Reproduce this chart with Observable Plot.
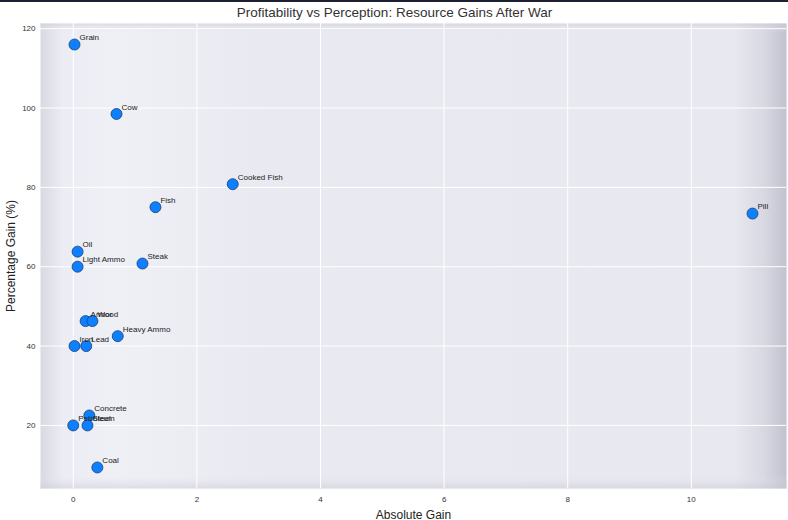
<!DOCTYPE html>
<html><head><meta charset="utf-8">
<script src="https://cdn.jsdelivr.net/npm/d3@7"></script>
<script src="https://cdn.jsdelivr.net/npm/@observablehq/plot@0.6"></script>
<style>
body{margin:0;background:#fff;font-family:"Liberation Sans",Arial,sans-serif;}
#top{height:2px;background:#1c2033;}
</style></head><body>
<div id="top"></div>
<div id="chart"></div>
<script>
const names = ["Grain","Cow","Cooked Fish","Fish","Pill","Oil","Light Ammo","Steak","Armor","Wood","Heavy Ammo","Iron","Lead","Concrete","Petroleum","Steel","Coal"];
const absGain = [0.02,0.70,2.58,1.33,10.99,0.07,0.07,1.12,0.20,0.31,0.72,0.02,0.21,0.26,0.00,0.23,0.39];
const pctGain = [116,98.5,80.8,75,73.4,63.8,60,60.8,46.3,46.3,42.5,40,40,22.5,20,20,9.4];
const xTicks = [0,2,4,6,8,10];
const yTicks = [20,40,60,80,100,120];

const data = names.map((n,i)=>({name:n,x:absGain[i],y:pctGain[i]}));

const plot = Plot.plot({
  width:788, height:518,
  marginLeft:40, marginRight:2, marginTop:21, marginBottom:32,
  style:{fontFamily:"Liberation Sans, Arial, sans-serif", fontSize:"8px", color:"#333", background:"#fff"},
  x:{domain:[-0.53,11.54], ticks:xTicks, tickSize:0, tickPadding:8, label:"Absolute Gain", labelAnchor:"center", labelArrow:"none", labelOffset:30},
  y:{domain:[4.1,121.3], ticks:yTicks, tickSize:0, tickPadding:5, label:"Percentage Gain (%)", labelAnchor:"center", labelArrow:"none", labelOffset:34},
  marks:[
    Plot.frame({fill:"url(#bgGrad)"}),
    Plot.frame({fill:"url(#bgGradH)"}),
    Plot.gridX(xTicks,{stroke:"#fff", strokeOpacity:1, strokeWidth:1}),
    Plot.gridY(yTicks,{stroke:"#fff", strokeOpacity:1, strokeWidth:1}),
    Plot.dot(data,{x:"x",y:"y",r:5.5,fill:"#0d80ff",stroke:"#1b3d72",strokeWidth:0.8}),
    Plot.text(data,{x:"x",y:"y",text:"name",dx:5,dy:-7,textAnchor:"start",fontSize:8,fill:"#222"}),
    Plot.text(["Profitability vs Perception: Resource Gains After War"],{frameAnchor:"top",lineAnchor:"middle",dx:-19,dy:-11,fontSize:13.5,fill:"#333",fontWeight:"normal"})
  ]
});
const svg = d3.select(plot);
const defs = svg.insert("defs",":first-child");
const g = defs.append("linearGradient").attr("id","bgGrad").attr("x1","0").attr("x2","1").attr("y1","0").attr("y2","0");
g.append("stop").attr("offset","0").attr("stop-color","#d9d9e2");
g.append("stop").attr("offset","0.03").attr("stop-color","#ececf4");
g.append("stop").attr("offset","0.1").attr("stop-color","#efeff6");
g.append("stop").attr("offset","0.3").attr("stop-color","#e9e9f1");
g.append("stop").attr("offset","0.93").attr("stop-color","#e8e8f0");
g.append("stop").attr("offset","0.97").attr("stop-color","#d8d8e2");
g.append("stop").attr("offset","1").attr("stop-color","#c2c2cf");
const h = defs.append("linearGradient").attr("id","bgGradH").attr("x1","0").attr("x2","0").attr("y1","0").attr("y2","1");
h.append("stop").attr("offset","0").attr("stop-color","#c8c8d4").attr("stop-opacity","0.5");
h.append("stop").attr("offset","0.02").attr("stop-color","#e8e8f0").attr("stop-opacity","0");
h.append("stop").attr("offset","0.97").attr("stop-color","#e8e8f0").attr("stop-opacity","0");
h.append("stop").attr("offset","1").attr("stop-color","#c8c8d4").attr("stop-opacity","0.5");
svg.selectAll("[aria-label='x-axis label'] text, [aria-label='y-axis label'] text").style("font-size","12px").style("fill","#222");
document.getElementById("chart").append(plot);
</script>
</body></html>
